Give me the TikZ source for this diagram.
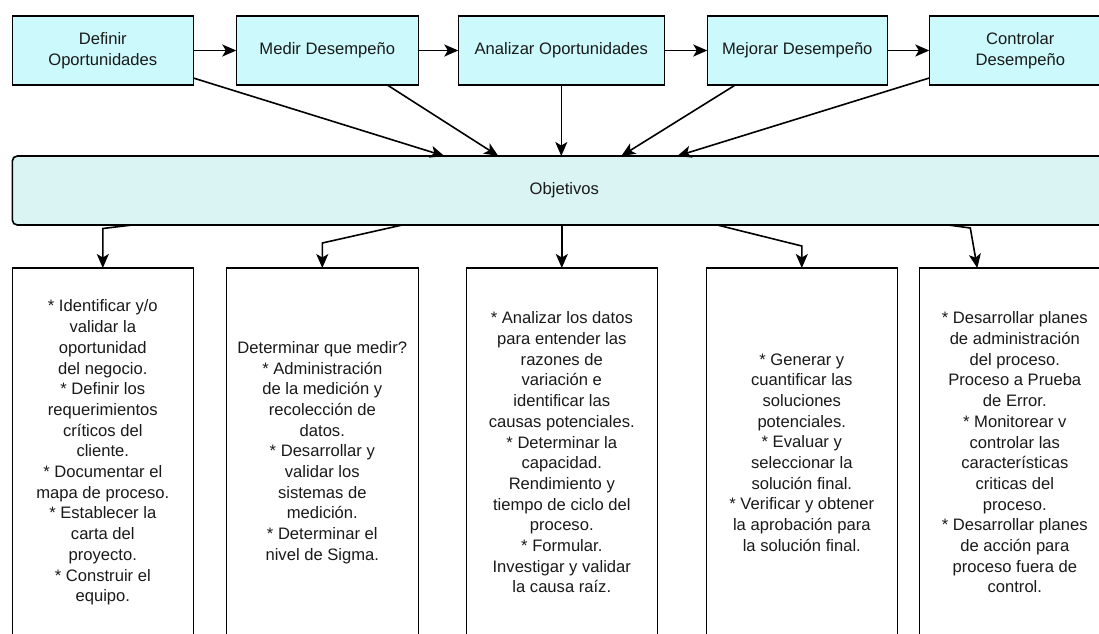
\documentclass[tikz,border=0pt]{standalone}
\usepackage{fontspec}
\setmainfont{Liberation Sans}
\usepackage{tikz}
\usetikzlibrary{positioning, arrows.meta, calc}

\definecolor{phasefill}{HTML}{CCFAFC}
\definecolor{goalfill}{HTML}{DAF3F3}
\definecolor{inkgray}{HTML}{1A1A1A}

\begin{document}
\begin{tikzpicture}[
        x=1pt, y=1pt,
        every node/.style={font=\fontsize{16.6}{20.7}\selectfont, text=inkgray},
        phase/.style={draw, rectangle, line width=1.6pt, outer sep=0pt, minimum height=69pt, align=center, inner sep=2pt, fill=phasefill},
        goal/.style={draw, rectangle, rounded corners=5pt, line width=1.6pt, outer sep=0pt, minimum height=69pt, align=center, fill=goalfill},
        task/.style={draw, rectangle, line width=1.6pt, outer sep=0pt, minimum height=369pt, align=center, inner sep=2pt, fill=white},
        arrow/.style={-{Stealth[length=14pt, width=12pt, inset=3.5pt]}, line width=1.6pt}
      ]
      \useasboundingbox (0,0) rectangle (1099,-633);

      % phases
      \node[phase, minimum width=181pt] (definir) at (102.8,-50.5) {Definir\\Oportunidades};
      \node[phase, minimum width=182pt, right=43pt of definir] (medir) {Medir Desempeño};
      \node[phase, minimum width=206pt, right=40pt of medir] (analizar) {Analizar Oportunidades};
      \node[phase, minimum width=180pt, right=43pt of analizar] (mejorar) {Mejorar Desempeño};
      \node[phase, minimum width=182pt, right=42pt of mejorar] (controlar) {Controlar\\Desempeño};

      % objetivos bar
      \node[goal, minimum width=1104pt, below=71pt of definir.south west, anchor=north west] (objetivos) {Objetivos};

      % task boxes
      \node[task, minimum width=181pt, below=43pt of objetivos.south west, anchor=north west] (tdefinir) {* Identificar y/o\\validar la\\oportunidad\\del negocio.\\* Definir los\\requerimientos\\críticos del\\cliente.\\* Documentar el\\mapa de proceso.\\* Establecer la\\carta del\\proyecto.\\* Construir el\\equipo.};
      \node[task, minimum width=192pt, right=33pt of tdefinir] (tmedir) {Determinar que medir?\\* Administración\\de la medición y\\recolección de\\datos.\\* Desarrollar y\\validar los\\sistemas de\\medición.\\* Determinar el\\nivel de Sigma.};
      \node[task, minimum width=191pt, right=48pt of tmedir] (tanalizar) {* Analizar los datos\\para entender las\\razones de\\variación e\\identificar las\\causas potenciales.\\* Determinar la\\capacidad.\\Rendimiento y\\tiempo de ciclo del\\proceso.\\* Formular.\\Investigar y validar\\la causa raíz.};
      \node[task, minimum width=191pt, right=49pt of tanalizar] (tmejorar) {* Generar y\\cuantificar las\\soluciones\\potenciales.\\* Evaluar y\\seleccionar la\\solución final.\\* Verificar y obtener\\la aprobación para\\la solución final.};
      \node[task, minimum width=191pt, right=22pt of tmejorar] (tcontrolar) {* Desarrollar planes\\de administración\\del proceso.\\Proceso a Prueba\\de Error.\\* Monitorear v\\controlar las\\características\\criticas del\\proceso.\\* Desarrollar planes\\de acción para\\proceso fuera de\\control.};

      % edges between phases
      \draw[arrow] (definir) -- (medir);
      \draw[arrow] (medir) -- (analizar);
      \draw[arrow] (analizar) -- (mejorar);
      \draw[arrow] (mejorar) -- (controlar);

      % phases to objetivos
      \draw[arrow] ($(definir.south east)+(0,7)$) -- ($(objetivos.north)+(-120,0)$);
      \draw[arrow] ($(medir.south)+(60,0)$) -- ($(objetivos.north)+(-66,0)$);
      \draw[arrow] (analizar.south) -- (analizar.south |- objetivos.north);
      \draw[arrow] ($(mejorar.south)+(-62,0)$) -- ($(objetivos.north)+(57,0)$);
      \draw[arrow] ($(controlar.south west)+(0,7)$) -- ($(objetivos.north)+(113,0)$);

      % objetivos to tasks
      \draw[arrow] ($(objetivos.south)+(-432,0)$) -- ($(tdefinir.north)+(0,39.5)$) -- (tdefinir.north);
      \draw[arrow] ($(objetivos.south)+(-162,0)$) -- ($(tmedir.north)+(0,25)$) -- (tmedir.north);
      \draw[arrow] (objetivos.south -| tanalizar.north) -- (tanalizar.north);
      \draw[arrow] ($(objetivos.south)+(153,0)$) -- ($(tmejorar.north)+(0,22)$) -- (tmejorar.north);
      \draw[arrow] ($(objetivos.south)+(384,0)$) -- ($(tcontrolar.north west)+(51,40)$) -- ($(tcontrolar.north west)+(58,0)$);

\end{tikzpicture}
\end{document}
